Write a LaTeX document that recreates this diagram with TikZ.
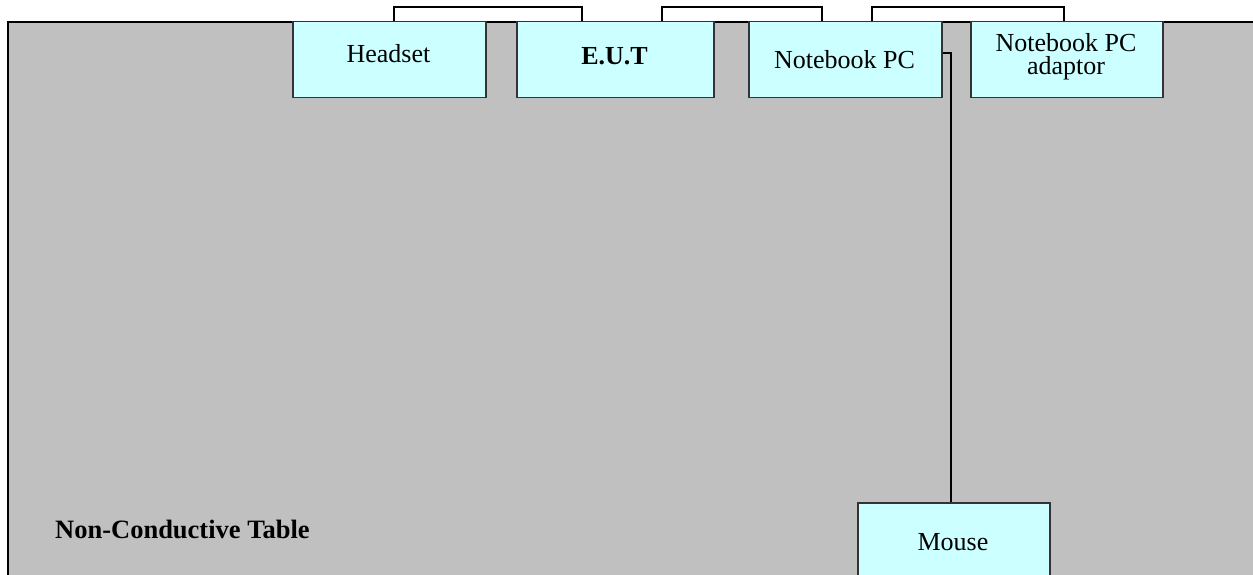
\documentclass[tikz,border=0pt]{standalone}
\usepackage{fontspec}
\setmainfont{Liberation Serif}
\usetikzlibrary{calc}
\definecolor{tablegray}{HTML}{C0C0C0}
\definecolor{boxcyan}{HTML}{CCFFFF}
\begin{document}
\begin{tikzpicture}[x={(1pt,0)},y={(0,-1pt)},
  devbox/.style={draw=black!80,line width=1.5pt,fill=boxcyan,rectangle,inner sep=0pt,
    minimum width=193pt,minimum height=76pt,anchor=north west},
  devtext/.style={anchor=base,inner sep=0pt,font=\fontsize{26}{22}\selectfont},
  cable/.style={draw=black,line width=2pt}]
\useasboundingbox (0,0) rectangle (1253,575);
\node[draw=black,line width=2.2pt,fill=tablegray,rectangle,inner sep=0pt,anchor=north west,
  minimum width=1260pt,minimum height=570pt] (table) at (7,21) {};
\node[anchor=base west,inner sep=0pt,font=\fontsize{26.5}{26}\selectfont\bfseries] (tlabel) at (55,538) {Non-Conductive Table};
\node[devbox] (hs) at (292,21) {};
\node[devbox,minimum width=197pt] (eut) at (516,21) {};
\node[devbox] (nb) at (748,21) {};
\node[devbox,minimum width=192pt] (ad) at (970,21) {};
\node[devbox,minimum width=192pt,minimum height=90pt] (ms) at (857,502) {};
\node[devtext] (hst) at (388.5,63) {Headset};
\node[devtext,font=\fontsize{26}{22}\selectfont\bfseries] (eutt) at (614.5,65) {E.U.T};
\node[devtext] (nbt) at (844.5,69) {Notebook PC};
\node[devtext,align=center,anchor=base,font=\fontsize{26}{23}\selectfont] (adt) at (1066,75) {Notebook PC\\adaptor};
\node[devtext] (mst) at (953,550) {Mouse};
\draw[cable] ($(hs.north)+(4.5,0)$) -- ++(0,-14) -| ($(eut.north)+(-33.5,0)$);
\draw[cable] ($(eut.north)+(46.5,0)$) -- ++(0,-14) -| ($(nb.north)+(-23.5,0)$);
\draw[cable] ($(nb.north)+(26.5,0)$) -- ++(0,-14) -| ($(ad.north)+(-3,0)$);
\draw[cable] ($(nb.east)+(0,-7)$) -| ($(ms.north)+(-3,0)$);
\end{tikzpicture}
\end{document}
